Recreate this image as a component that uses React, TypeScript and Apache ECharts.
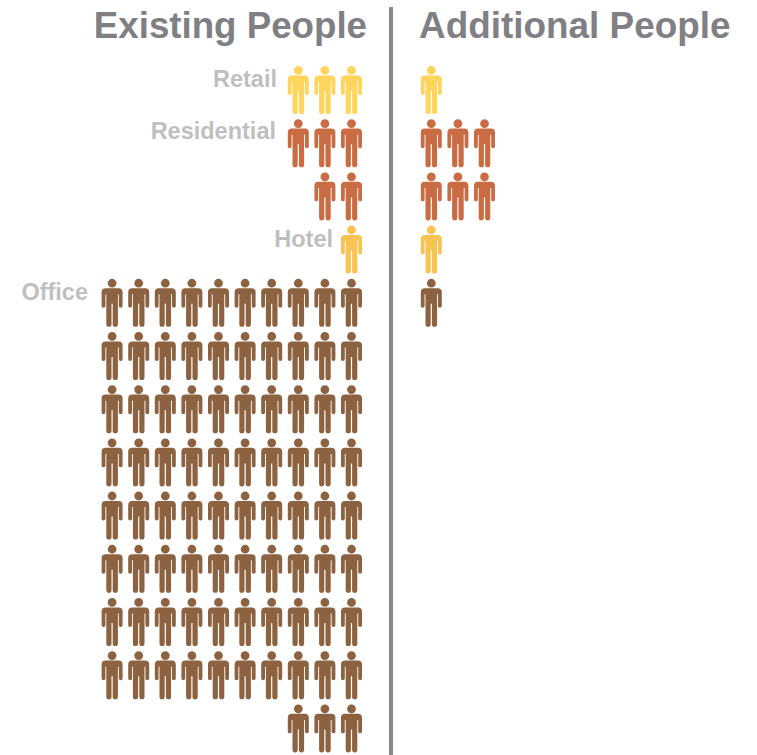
import React, { useEffect, useRef } from "react";
import * as echarts from "echarts";

// One entry per row of icons, top to bottom.
const rowCategories = ["Retail", "Residential", "Residential", "Hotel", "Office", "Office", "Office", "Office", "Office", "Office", "Office", "Office", "Office"];
const existingPeople = [3, 3, 2, 1, 10, 10, 10, 10, 10, 10, 10, 10, 3];
const additionalPeople = [1, 3, 3, 1, 1, 0, 0, 0, 0, 0, 0, 0, 0];

const categories = ["Retail", "Residential", "Hotel", "Office"];
const categoryColors = ["#FFD55E", "#C96C43", "#F9C354", "#8C6241"];
const headings = ["Existing People", "Additional People"];

const PERSON =
  "path://M10.5 0A4.5 4.5 0 1 0 10.5 9A4.5 4.5 0 1 0 10.5 0Z" +
  "M4 9.6H17C19.6 9.6 21 11 21 13.6V27.6A1.9 1.9 0 0 1 17.2 27.6V15.8H16.3V46.4A2.6 2.6 0 0 1 11.1 46.4V25.5H9.9V46.4A2.6 2.6 0 0 1 4.7 46.4V15.8H3.8V27.6A1.9 1.9 0 0 1 0 27.6V13.6C0 11 1.4 9.6 4 9.6Z";

const FONT = '"Liberation Sans", Arial, sans-serif';
const HEADING_COLOR = "#808084";
const LABEL_COLOR = "#BFBFBF";

// Existing people stack leftward from column 0; additional people run rightward from column 3.
function pointsFor(category: string): number[][] {
  const points: number[][] = [];
  rowCategories.forEach((name, row) => {
    if (name !== category) return;
    for (let i = 0; i < existingPeople[row]; i++) points.push([-i, row]);
    for (let i = 0; i < additionalPeople[row]; i++) points.push([3 + i, row]);
  });
  return points;
}

export default function App() {
  const ref = useRef<HTMLDivElement>(null);

  useEffect(() => {
    const chart = echarts.init(ref.current!, null, { renderer: "svg" });
    const label = (text: string, right: number, y: number) => ({
      type: "text",
      x: right,
      y,
      style: {
        text,
        fill: LABEL_COLOR,
        font: `bold 23.5px ${FONT}`,
        textAlign: "right",
        textVerticalAlign: "middle",
      },
    });
    chart.setOption({
      animation: false,
      backgroundColor: "#ffffff",
      grid: { left: 85.5, top: 36.8, width: 425.6, height: 718.2 },
      xAxis: { type: "value", min: -10, max: 6, show: false },
      yAxis: { type: "value", min: -1, max: 12.5, inverse: true, show: false },
      series: categories.map((name, i) => ({
        name,
        type: "scatter",
        symbol: PERSON,
        symbolSize: [21, 48],
        itemStyle: { color: categoryColors[i], opacity: 1 },
        data: pointsFor(name),
      })),
      graphic: [
        {
          type: "rect",
          shape: { x: 389, y: 7, width: 4, height: 748 },
          style: { fill: "#8A8A8E" },
        },
        {
          type: "text",
          x: 367,
          y: 25,
          style: { text: headings[0], fill: HEADING_COLOR, font: `bold 36.7px ${FONT}`, textAlign: "right", textVerticalAlign: "middle" },
        },
        {
          type: "text",
          x: 419,
          y: 25,
          style: { text: headings[1], fill: HEADING_COLOR, font: `bold 36.9px ${FONT}`, textAlign: "left", textVerticalAlign: "middle" },
        },
        label(categories[0], 277, 79),
        label(categories[1], 276, 131),
        label(categories[2], 333, 239),
        label(categories[3], 88, 292),
      ],
    });
    return () => chart.dispose();
  }, []);

  return <div ref={ref} style={{ position: "absolute", left: 0, top: 0, width: 757, height: 755 }} />;
}
